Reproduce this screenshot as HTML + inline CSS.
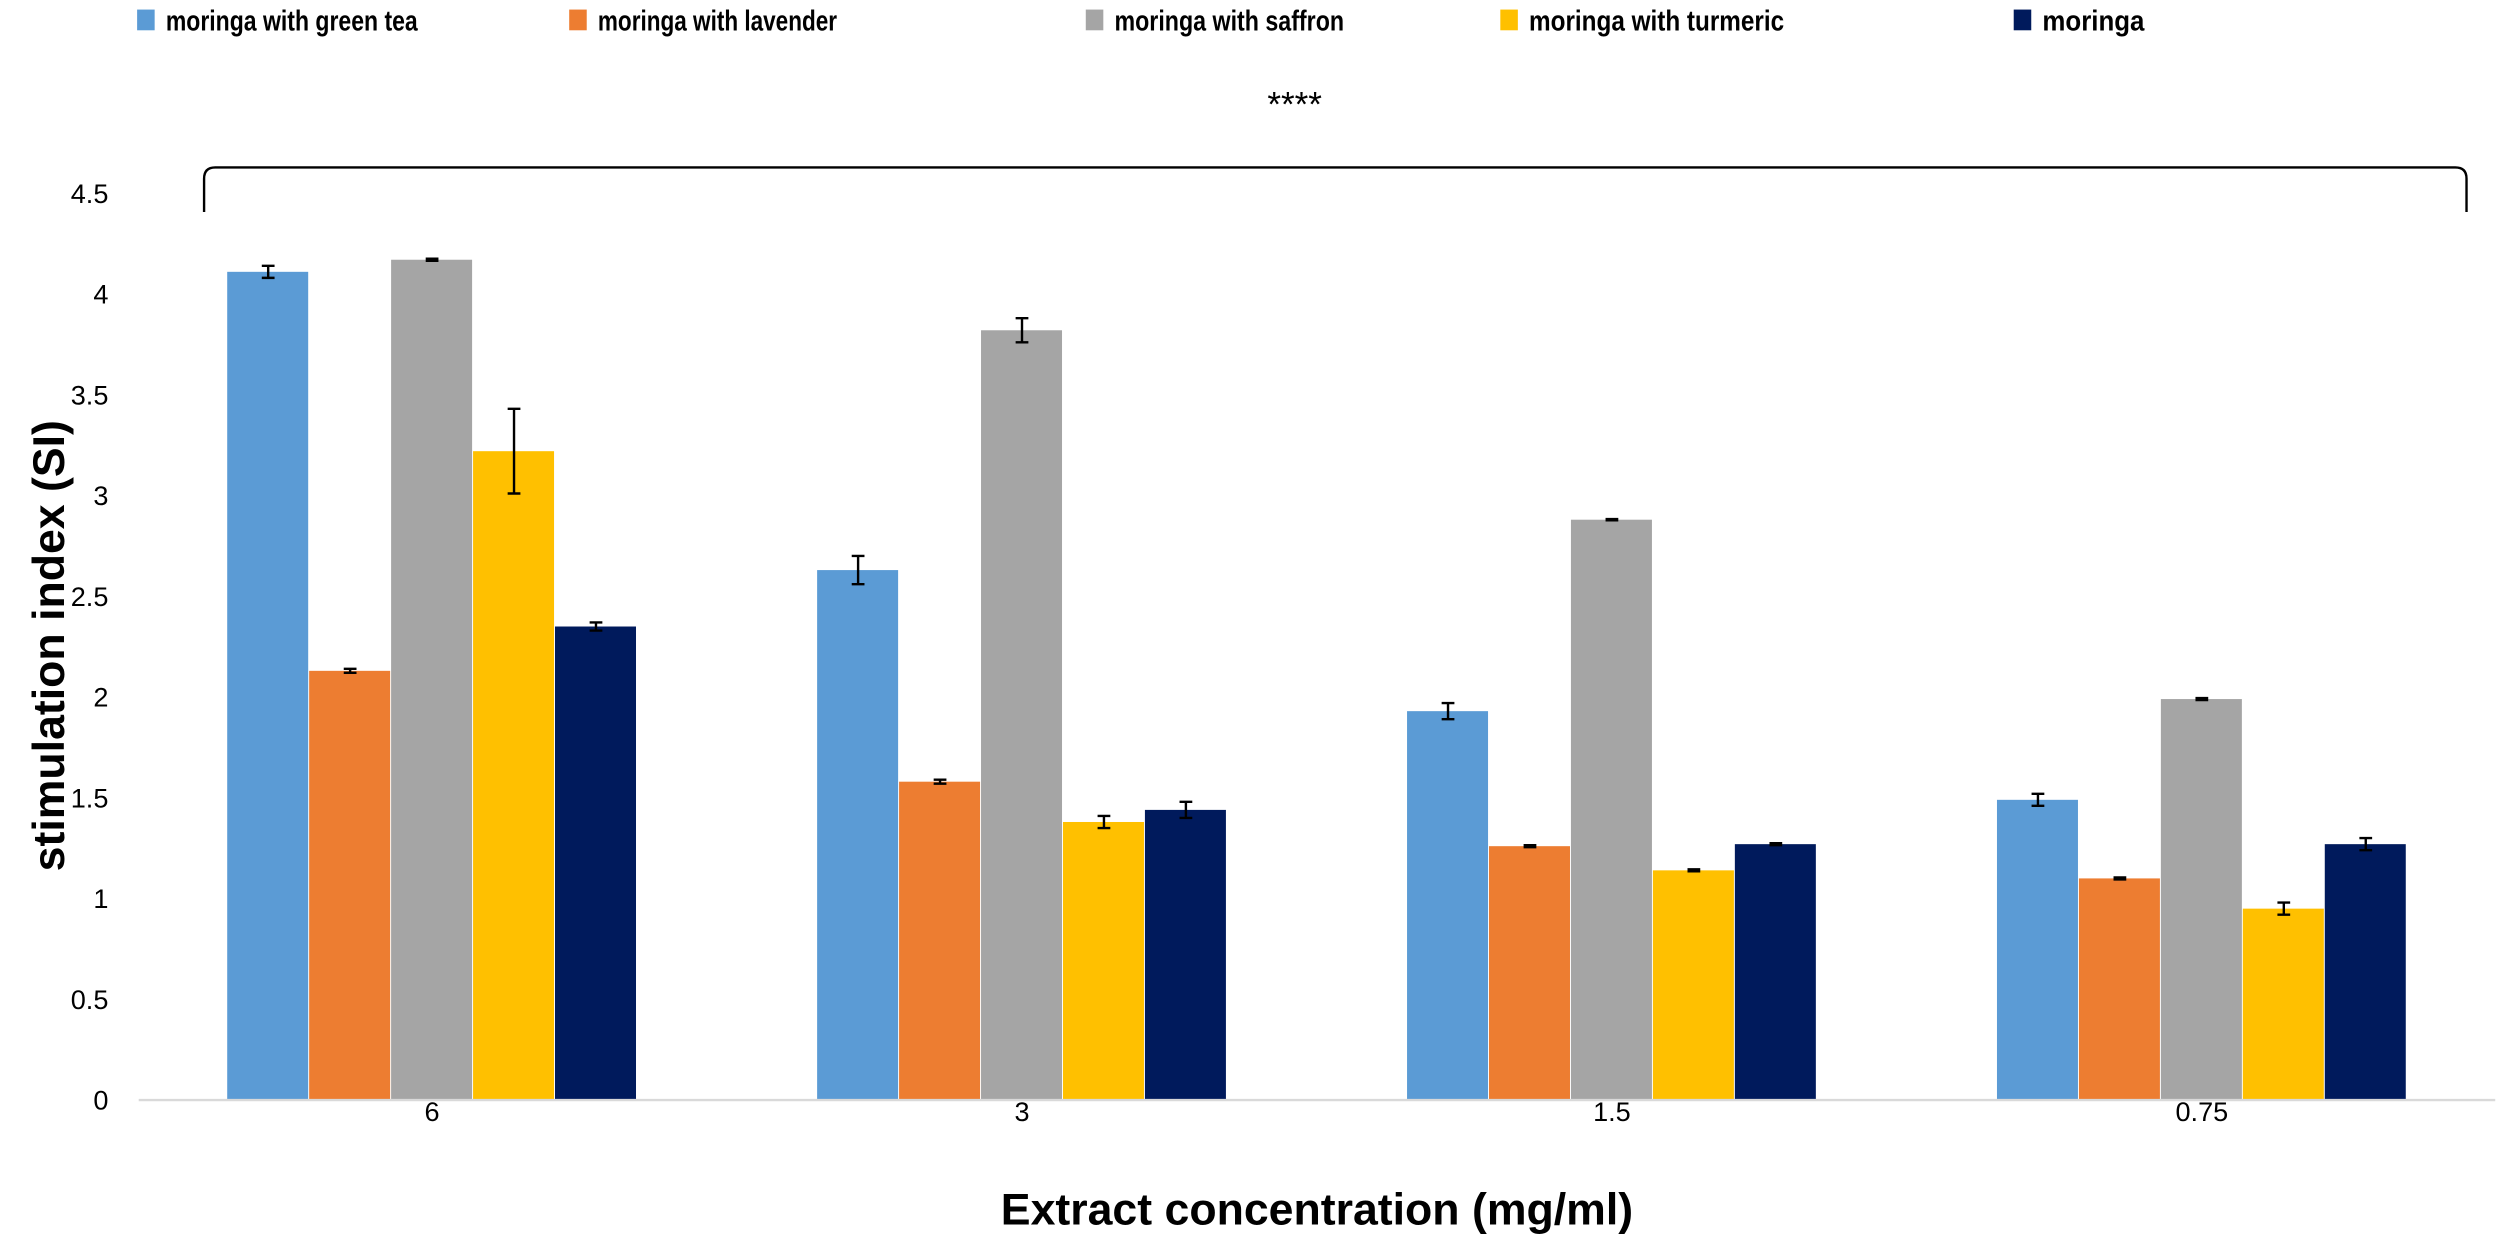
<!DOCTYPE html>
<html><head><meta charset="utf-8"><style>
html,body{margin:0;padding:0;background:#fff;}
svg{display:block;font-family:"Liberation Sans",Arial,sans-serif;}
</style></head><body>
<svg id="chart" width="2500" height="1238" viewBox="0 0 1568 776.5" preserveAspectRatio="none" xmlns="http://www.w3.org/2000/svg">
<g id="legend"></g>
<text x="812" y="73" font-size="22" text-anchor="middle">****</text>
<path d="M128,133 L128,112 Q128,105 135,105 L1540,105 Q1547,105 1547,112 L1547,133" fill="none" stroke="#000" stroke-width="1.5"/>
<g id="yaxis"></g>
<g id="bars"></g>
<line x1="87" y1="690" x2="1565" y2="690" stroke="#d9d9d9" stroke-width="1.5"/>
<g id="xaxis"></g>
<text transform="translate(40,405) rotate(-90)" font-size="28" font-weight="bold" text-anchor="middle">stimulation index (SI)</text>
<text x="826" y="768" font-size="28" font-weight="bold" text-anchor="middle">Extract concentration (mg/ml)</text>
</svg>
<script>
const categories = ["6","3","1.5","0.75"];
const seriesNames = ["moringa with green tea","moringa with lavender","moringa with saffron","moringa with turmeric","moringa"];
const greenTea = [4.11,2.63,1.93,1.49];
const lavender = [2.13,1.58,1.26,1.10];
const saffron = [4.17,3.82,2.88,1.99];
const turmeric = [3.22,1.38,1.14,0.95];
const moringa = [2.35,1.44,1.27,1.27];
const errGreenTea = [0.03,0.07,0.04,0.03];
const errLavender = [0.01,0.01,0.005,0.005];
const errSaffron = [0.005,0.06,0.003,0.005];
const errTurmeric = [0.21,0.03,0.005,0.03];
const errMoringa = [0.02,0.04,0.005,0.03];
const yTicks = [0,0.5,1,1.5,2,2.5,3,3.5,4,4.5];

const colors = ["#5b9bd5","#ed7d31","#a5a5a5","#ffc000","#001a5c"];
const values = [greenTea,lavender,saffron,turmeric,moringa];
const errs = [errGreenTea,errLavender,errSaffron,errTurmeric,errMoringa];
const NS="http://www.w3.org/2000/svg";
const y = v => 690 - v*126.4;
const groupX = i => 271 + i*370;
const barW = 51.4;
function mk(tag, attrs, parent){const e=document.createElementNS(NS,tag);for(const k in attrs)e.setAttribute(k,attrs[k]);parent.appendChild(e);return e;}

const ya=document.getElementById('yaxis');
yTicks.forEach(t=>{const e=mk('text',{x:68,y:y(t)+6,'font-size':17,'text-anchor':'end'},ya);e.textContent=String(t);

});

const xa=document.getElementById('xaxis');
categories.forEach((c,i)=>{const e=mk('text',{x:groupX(i),y:703,'font-size':17,'text-anchor':'middle'},xa);e.textContent=c;

});

const bg=document.getElementById('bars');
categories.forEach((c,i)=>{
  values.forEach((s,j)=>{
    const x0=groupX(i)-2.5*barW+j*barW;
    const r=mk('rect',{x:x0,y:y(s[i]),width:barW-0.6,height:690-y(s[i]),fill:colors[j]},bg);
    
    
    const cx=x0+barW/2, e=errs[j][i];
    const g=mk('path',{d:`M${cx},${y(s[i]+e)}V${y(s[i]-e)}M${cx-4},${y(s[i]+e)}H${cx+4}M${cx-4},${y(s[i]-e)}H${cx+4}`,stroke:'#000','stroke-width':1.5,fill:'none'},bg);
    
    
  });
});

const lg=document.getElementById('legend');
const lx=[86,357,681,941,1263];
const lw=[158,150,144,160,64];
seriesNames.forEach((n,j)=>{
  const r=mk('rect',{x:lx[j],y:6,width:11,height:13,fill:colors[j]},lg);
  
  
  const t=mk('text',{x:lx[j]+18,y:19,'font-size':18,'font-weight':'bold',textLength:lw[j],lengthAdjust:'spacingAndGlyphs'},lg);
  t.textContent=n;
  
  
});
</script>
</body></html>
